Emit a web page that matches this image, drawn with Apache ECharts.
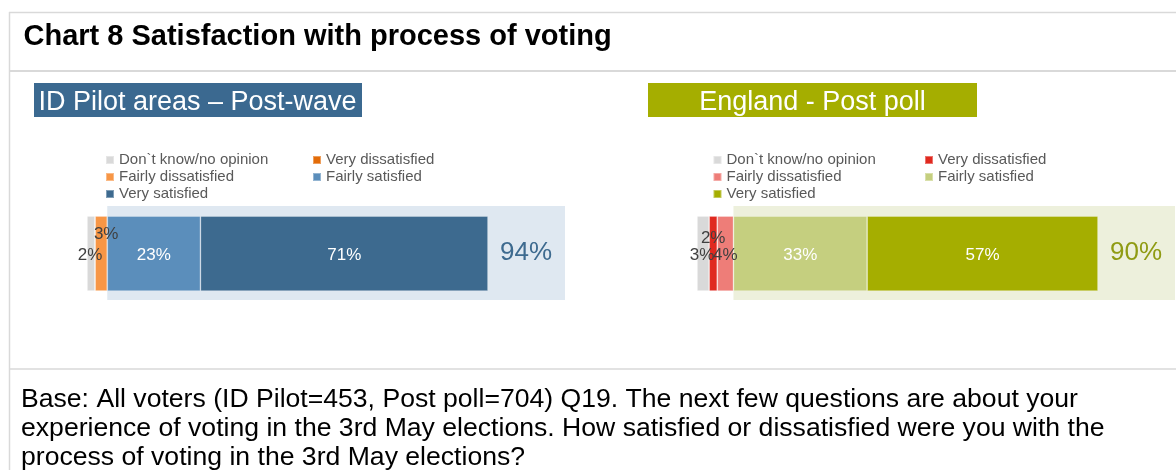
<!DOCTYPE html>
<html><head><meta charset="utf-8">
<script src="https://cdn.jsdelivr.net/npm/echarts@6/dist/echarts.min.js"></script>
<style>html,body{margin:0;padding:0;background:#fff}#c{width:1176px;height:470px}</style>
</head><body><div id="c"></div>
<script>
// ---- data ----
const categories = ["Don`t know/no opinion", "Very dissatisfied", "Fairly dissatisfied", "Fairly satisfied", "Very satisfied"];
const pilotValues = [2, 0, 3, 23, 71];
const englandValues = [3, 2, 4, 33, 57];
const pilotNetSatisfied = 94;
const englandNetSatisfied = 90;
const panelTitles = ["ID Pilot areas – Post-wave", "England - Post poll"];
const chartTitle = "Chart 8 Satisfaction with process of voting";
const footnoteLines = [
  "Base: All voters (ID Pilot=453, Post poll=704) Q19. The next few questions are about your",
  "experience of voting in the 3rd May elections. How satisfied or dissatisfied were you with the",
  "process of voting in the 3rd May elections?"
];

// ---- styles ----
const FONT = "'Liberation Sans', Arial, Helvetica, sans-serif";
const AXIS_MAX = 118;
const pilotColors = ['#d9d9d9', '#e36c09', '#f79646', '#5b8ebb', '#3d6a8f'];
const englandColors = ['#d9d9d9', '#e0291f', '#ee7d78', '#c5cf7f', '#a5ae00'];
const labelColors = ['#404040', '#404040', '#404040', '#ffffff', '#ffffff'];
const pilotOffsets = [[-1, 2], [0, -15], [5, -19], [0, 2], [0, 2]];
const englandOffsets = [[-1, 2], [0, -15], [0, 2], [0, 2], [0, 2]];

const chart = echarts.init(document.getElementById('c'), null, {renderer: 'canvas'});

function panelSeries(prefix, values, colors, offsets, gridIdx, net, bgColor, netColor) {
  const series = categories.map((cat, i) => ({
    name: prefix + cat,
    type: 'bar',
    stack: prefix,
    xAxisIndex: gridIdx,
    yAxisIndex: gridIdx,
    barWidth: 75,
    z: 3,
    itemStyle: {color: colors[i], borderColor: 'rgba(255,255,255,0.35)', borderWidth: 0.8},
    label: {
      show: values[i] > 0,
      position: 'inside',
      offset: offsets[i],
      formatter: p => p.value + '%',
      fontFamily: FONT,
      fontSize: 17,
      color: labelColors[i]
    },
    emphasis: {disabled: true},
    data: [values[i]]
  }));
  const start = values[0] + values[1] + values[2];
  series.unshift({
    name: prefix + 'bg',
    type: 'bar',
    xAxisIndex: gridIdx,
    yAxisIndex: gridIdx,
    z: 1,
    data: [],
    markArea: {
      silent: true,
      itemStyle: {color: bgColor},
      label: {
        show: true,
        position: 'insideRight',
        distance: 13,
        formatter: net + '%',
        fontFamily: FONT,
        fontSize: 26,
        color: netColor
      },
      data: [[{xAxis: start}, {xAxis: AXIS_MAX}]]
    }
  });
  return series;
}

function legends(prefix, x1, x2) {
  const base = {
    orient: 'vertical',
    top: 152.5,
    itemWidth: 8,
    itemHeight: 8,
    itemGap: 2,
    padding: 0,
    icon: 'rect',
    selectedMode: false,
    formatter: n => n.slice(prefix.length),
    textStyle: {fontFamily: FONT, fontSize: 15, color: '#595959', lineHeight: 15}
  };
  return [
    Object.assign({}, base, {left: x1, data: [0, 2, 4].map(i => prefix + categories[i])}),
    Object.assign({}, base, {left: x2, data: [1, 3].map(i => prefix + categories[i])})
  ];
}

const option = {
  backgroundColor: '#ffffff',
  animation: false,
  grid: [
    {left: 87, top: 206, width: 478, height: 94},
    {left: 697, top: 206, width: 478, height: 94}
  ],
  xAxis: [0, 1].map(i => ({type: 'value', gridIndex: i, min: 0, max: AXIS_MAX, show: false})),
  yAxis: [0, 1].map(i => ({type: 'category', gridIndex: i, data: [''], show: false})),
  legend: legends('L|', 105, 312).concat(legends('R|', 712.5, 924)),
  series: panelSeries('L|', pilotValues, pilotColors, pilotOffsets, 0, pilotNetSatisfied, '#dfe8f1', '#3d6a8f')
    .concat(panelSeries('R|', englandValues, englandColors, englandOffsets, 1, englandNetSatisfied, '#edf0dc', '#8f9b13')),
  graphic: [
    {type: 'line', shape: {x1: 9, y1: 12.5, x2: 1176, y2: 12.5}, style: {stroke: '#d9d9d9', lineWidth: 1.5}, silent: true},
    {type: 'line', shape: {x1: 9, y1: 71, x2: 1176, y2: 71}, style: {stroke: '#d9d9d9', lineWidth: 2}, silent: true},
    {type: 'line', shape: {x1: 9, y1: 369, x2: 1176, y2: 369}, style: {stroke: '#d9d9d9', lineWidth: 1.5}, silent: true},
    {type: 'line', shape: {x1: 9.5, y1: 12, x2: 9.5, y2: 470}, style: {stroke: '#d9d9d9', lineWidth: 1.5}, silent: true},
    {type: 'text', left: 23.5, top: 37 - 15, style: {text: chartTitle, font: "bold 29px " + FONT, fill: '#000000'}, silent: true},
    {type: 'rect', shape: {x: 34, y: 83, width: 328, height: 34}, style: {fill: '#3b6990'}, silent: true},
    {type: 'text', x: 38.5, y: 102.5, style: {text: panelTitles[0], font: "27px " + FONT, fill: '#ffffff', verticalAlign: 'middle', align: 'left'}, silent: true},
    {type: 'rect', shape: {x: 648, y: 83, width: 329, height: 34}, style: {fill: '#a5ae00'}, silent: true},
    {type: 'text', x: 812.5, y: 102.5, style: {text: panelTitles[1], font: "27px " + FONT, fill: '#ffffff', verticalAlign: 'middle', align: 'center'}, silent: true},
    {type: 'text', x: 21, y: 400 - 14.5, style: {text: footnoteLines.join('\n'), font: "26.6px " + FONT, lineHeight: 29, fill: '#000000', verticalAlign: 'top', align: 'left'}, silent: true}
  ]
};
chart.setOption(option);
</script>
</body></html>
